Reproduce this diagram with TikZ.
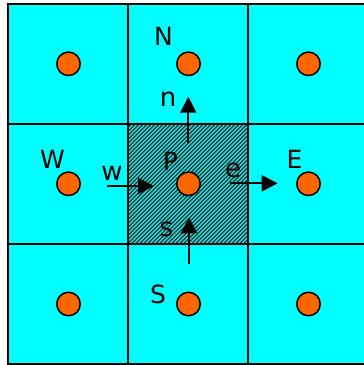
\documentclass[tikz,border=0pt]{standalone}
\usepackage{fontspec}
\setmainfont{DejaVu Sans}
\usetikzlibrary{arrows.meta}
\definecolor{cellcyan}{RGB}{0,255,255}
\definecolor{dotorange}{RGB}{255,102,0}
\definecolor{hatchbg}{RGB}{51,204,204}
\begin{document}
\begin{tikzpicture}[x=1pt,y=-1pt,
  gridline/.style={line width=2pt, draw=black},
  hatchline/.style={line width=0.75pt, draw=black},
  dot/.style={circle, draw=black, line width=1.5pt, fill=dotorange, minimum size=23.5pt, inner sep=0pt},
  flux/.style={line width=2.2pt, -{Triangle[length=16pt,width=16pt]}},
  capl/.style={font=\fontsize{25}{25}\selectfont, anchor=base, inner sep=0pt},
  lowl/.style={font=\fontsize{26}{26}\selectfont, anchor=base, inner sep=0pt}]
\useasboundingbox (0,0) rectangle (364,365);
\clip (0,0) rectangle (364,365);
% cells
\fill[cellcyan] (7.7,3.7) rectangle (367.7,363.7);
\fill[hatchbg] (127.7,123.7) rectangle (247.7,243.7);
\begin{scope}
  \clip (127.7,123.7) rectangle (247.7,243.7);
  \foreach \i in {-31,...,31} {
    \draw[hatchline] ({127.7+4*\i},243.7) -- ({247.7+4*\i},123.7);
  }
\end{scope}
% grid
\draw[gridline] (7.7,3.7) rectangle (367.7,363.7);
\draw[gridline] (127.7,3.7) -- (127.7,363.7);
\draw[gridline] (247.7,3.7) -- (247.7,363.7);
\draw[gridline] (7.7,123.7) -- (367.7,123.7);
\draw[gridline] (7.7,243.7) -- (367.7,243.7);
% nodes (dots)
\node[dot] (NW) at (68.5,63.8) {};
\node[dot] (Nd) at (188.5,63.8) {};
\node[dot] (NE) at (308.5,63.8) {};
\node[dot] (Wd) at (68.5,183.8) {};
\node[dot] (Pd) at (188.5,183.8) {};
\node[dot] (Ed) at (308.5,183.8) {};
\node[dot] (SW) at (68.5,304) {};
\node[dot] (Sd) at (188.5,304) {};
\node[dot] (SE) at (308.5,304) {};
% arrow ends
\coordinate (w0) at (107,186);
\coordinate (w1) at (154,186);
\coordinate (e0) at (230,183.3);
\coordinate (e1) at (277.7,183.3);
\coordinate (n0) at (188.3,143);
\coordinate (n1) at (188.3,96.7);
\coordinate (s0) at (189,264);
\coordinate (s1) at (189,217.3);
\draw[flux] (w0) -- (w1);
\draw[flux] (e0) -- (e1);
\draw[flux] (n0) -- (n1);
\draw[flux] (s0) -- (s1);
% labels
\node[capl] (lN) at (163.5,45) {N};
\node[lowl] (ln) at (168,106.5) {n};
\node[capl] (lW) at (52.5,168) {W};
\node[lowl] (lw) at (112,180) {w};
\node[capl] (lP) at (170.5,170) {P};
\node[lowl] (le) at (233,177.5) {e};
\node[capl] (lE) at (294.5,168) {E};
\node[lowl] (ls) at (166.5,236.5) {s};
\node[capl] (lS) at (158,303.5) {S};
\end{tikzpicture}
\end{document}
